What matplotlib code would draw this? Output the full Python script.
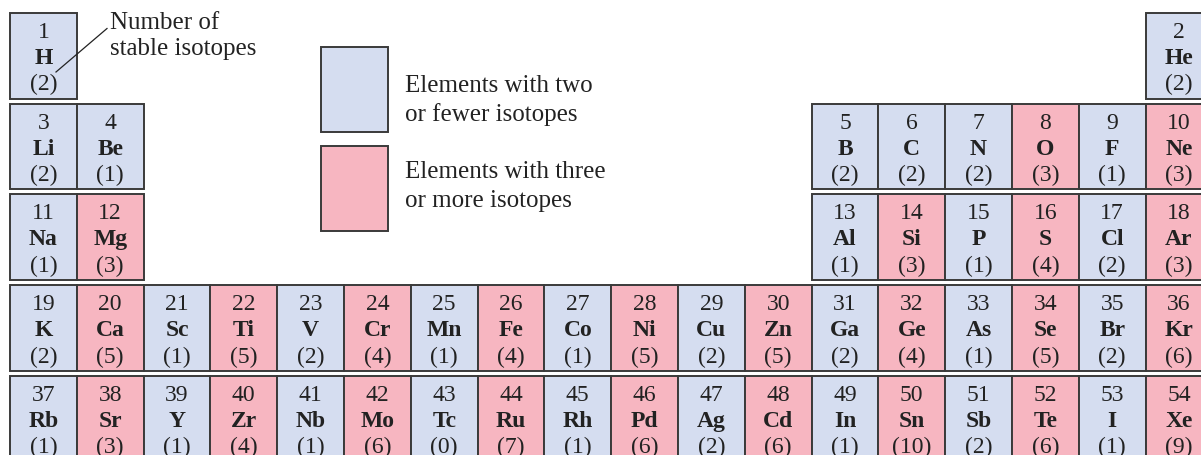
import matplotlib.pyplot as plt
from matplotlib.patches import Rectangle

# element data, per period
symbols = ['H', 'He',
           'Li', 'Be', 'B', 'C', 'N', 'O', 'F', 'Ne',
           'Na', 'Mg', 'Al', 'Si', 'P', 'S', 'Cl', 'Ar',
           'K', 'Ca', 'Sc', 'Ti', 'V', 'Cr', 'Mn', 'Fe', 'Co', 'Ni', 'Cu', 'Zn',
           'Ga', 'Ge', 'As', 'Se', 'Br', 'Kr',
           'Rb', 'Sr', 'Y', 'Zr', 'Nb', 'Mo', 'Tc', 'Ru', 'Rh', 'Pd', 'Ag', 'Cd',
           'In', 'Sn', 'Sb', 'Te', 'I', 'Xe']
isotopes = [2, 2,
            2, 1, 2, 2, 2, 3, 1, 3,
            1, 3, 1, 3, 1, 4, 2, 3,
            2, 5, 1, 5, 2, 4, 1, 4, 1, 5, 2, 5, 2, 4, 1, 5, 2, 6,
            1, 3, 1, 4, 1, 6, 0, 7, 1, 6, 2, 6, 1, 10, 2, 6, 1, 9]
period_start = [1, 3, 11, 19, 37]
period_len = [2, 8, 8, 18, 18]

legend_labels = [['Elements with two', 'or fewer isotopes'],
                 ['Elements with three', 'or more isotopes']]
note_lines = ['Number of', 'stable isotopes']

blue = '#d5ddf0'
pink = '#f7b6c1'
edge = '#3a3a3a'
ink = '#222222'
serif = ['Liberation Serif', 'DejaVu Serif']

fig = plt.figure(figsize=(12.01, 4.55), dpi=100)
ax = fig.add_axes([0, 0, 1, 1])
ax.set_xlim(0, 1201)
ax.set_ylim(455, 0)
ax.axis('off')

x0, y0 = 10, 13
cw, ch = 66.8, 85.5
row_pitch = 90.7


def column(z, p):
    n = z - period_start[p]
    if period_len[p] == 18:
        return n
    if period_len[p] == 2:
        return 0 if n == 0 else 17
    return n if n < 2 else n + 10


for p in range(5):
    for z in range(period_start[p], period_start[p] + period_len[p]):
        sym = symbols[z - 1]
        cnt = isotopes[z - 1]
        c = column(z, p)
        x = x0 + c * cw
        y = y0 + p * row_pitch
        ax.add_patch(Rectangle((x, y), cw, ch, facecolor=pink if cnt >= 3 else blue,
                               edgecolor=edge, linewidth=1.4))
        cx = x + cw / 2
        ax.text(cx, y + 25, str(z), ha='center', va='baseline',
                fontsize=17, family=serif, color=ink)
        ax.text(cx, y + 51, sym, ha='center', va='baseline',
                fontsize=17, family=serif, fontweight='bold', color=ink)
        ax.text(cx, y + 77.5, f'({cnt})', ha='center', va='baseline',
                fontsize=17, family=serif, color=ink)

# legend boxes
for i, (col, lines) in enumerate(zip([blue, pink], legend_labels)):
    by = 47 + i * 99
    ax.add_patch(Rectangle((321, by), 67, 85, facecolor=col, edgecolor=edge, linewidth=1.4))
    base = [92, 178][i]
    for j, line in enumerate(lines):
        ax.text(405, base + j * 29, line, ha='left', va='baseline', fontsize=18,
                family=serif, color=ink)

# annotation for isotope count
ax.plot([107, 56], [28.5, 72], color=ink, linewidth=0.9)
for j, line in enumerate(note_lines):
    ax.text(110, 29 + j * 26, line, ha='left', va='baseline',
            fontsize=18, family=serif, color=ink)

fig.savefig('out.png', dpi=100)
